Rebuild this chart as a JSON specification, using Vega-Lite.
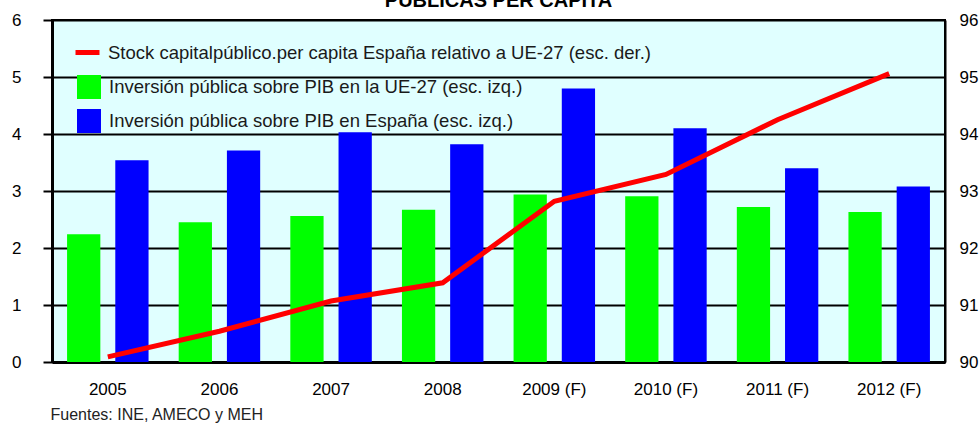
{
  "$schema": "https://vega.github.io/schema/vega-lite/v6.json",
  "autosize": {"type": "none"},
  "width": 893,
  "height": 342,
  "padding": {"left": 52, "top": 20, "right": 35, "bottom": 61},
  "background": "white",
  "title": {
    "text": "PUBLICAS PER CAPITA",
    "fontSize": 20,
    "fontWeight": "bold",
    "font": "Liberation Sans",
    "color": "black",
    "anchor": "middle",
    "offset": 0
  },
  "datasets": {
    "bars": [
      {"year": "2005", "serie": "Inversión pública sobre PIB en la UE-27 (esc. izq.)", "value": 2.24},
      {"year": "2005", "serie": "Inversión pública sobre PIB en España (esc. izq.)", "value": 3.54},
      {"year": "2006", "serie": "Inversión pública sobre PIB en la UE-27 (esc. izq.)", "value": 2.45},
      {"year": "2006", "serie": "Inversión pública sobre PIB en España (esc. izq.)", "value": 3.71},
      {"year": "2007", "serie": "Inversión pública sobre PIB en la UE-27 (esc. izq.)", "value": 2.56},
      {"year": "2007", "serie": "Inversión pública sobre PIB en España (esc. izq.)", "value": 4.03},
      {"year": "2008", "serie": "Inversión pública sobre PIB en la UE-27 (esc. izq.)", "value": 2.67},
      {"year": "2008", "serie": "Inversión pública sobre PIB en España (esc. izq.)", "value": 3.82},
      {"year": "2009 (F)", "serie": "Inversión pública sobre PIB en la UE-27 (esc. izq.)", "value": 2.94},
      {"year": "2009 (F)", "serie": "Inversión pública sobre PIB en España (esc. izq.)", "value": 4.80},
      {"year": "2010 (F)", "serie": "Inversión pública sobre PIB en la UE-27 (esc. izq.)", "value": 2.91},
      {"year": "2010 (F)", "serie": "Inversión pública sobre PIB en España (esc. izq.)", "value": 4.10},
      {"year": "2011 (F)", "serie": "Inversión pública sobre PIB en la UE-27 (esc. izq.)", "value": 2.72},
      {"year": "2011 (F)", "serie": "Inversión pública sobre PIB en España (esc. izq.)", "value": 3.40},
      {"year": "2012 (F)", "serie": "Inversión pública sobre PIB en la UE-27 (esc. izq.)", "value": 2.63},
      {"year": "2012 (F)", "serie": "Inversión pública sobre PIB en España (esc. izq.)", "value": 3.08}
    ],
    "stock": [
      {"year": "2005", "serie": "Stock capitalpúblico.per capita España  relativo a UE-27 (esc. der.)", "stock": 90.09},
      {"year": "2006", "serie": "Stock capitalpúblico.per capita España  relativo a UE-27 (esc. der.)", "stock": 90.54},
      {"year": "2007", "serie": "Stock capitalpúblico.per capita España  relativo a UE-27 (esc. der.)", "stock": 91.07},
      {"year": "2008", "serie": "Stock capitalpúblico.per capita España  relativo a UE-27 (esc. der.)", "stock": 91.39},
      {"year": "2009 (F)", "serie": "Stock capitalpúblico.per capita España  relativo a UE-27 (esc. der.)", "stock": 92.82},
      {"year": "2010 (F)", "serie": "Stock capitalpúblico.per capita España  relativo a UE-27 (esc. der.)", "stock": 93.29},
      {"year": "2011 (F)", "serie": "Stock capitalpúblico.per capita España  relativo a UE-27 (esc. der.)", "stock": 94.25},
      {"year": "2012 (F)", "serie": "Stock capitalpúblico.per capita España  relativo a UE-27 (esc. der.)", "stock": 95.06}
    ]
  },
  "encoding": {
    "x": {
      "field": "year",
      "type": "nominal",
      "sort": null,
      "scale": {"paddingInner": 0.27, "paddingOuter": 0.135},
      "axis": {
        "title": "Fuentes: INE, AMECO y MEH",
        "titleFontSize": 16,
        "titleFontWeight": "normal",
        "titleColor": "#222222",
        "titleAnchor": "start",
        "titleAlign": "left",
        "titleBaseline": "alphabetic",
        "titleX": -2,
        "titleY": 57,
        "labelAngle": 0,
        "labelFontSize": 17,
        "labelColor": "black",
        "labelPadding": 19,
        "labelDx": -6,
        "ticks": false,
        "tickSize": 0,
        "domainColor": "black",
        "domainWidth": 3,
        "grid": false
      }
    }
  },
  "layer": [
    {
      "data": {"name": "bars"},
      "mark": {"type": "bar"},
      "encoding": {
        "xOffset": {
          "field": "serie",
          "type": "nominal",
          "sort": ["Inversión pública sobre PIB en la UE-27 (esc. izq.)", "Inversión pública sobre PIB en España (esc. izq.)"],
          "scale": {"paddingInner": 0.31, "paddingOuter": 0}
        },
        "y": {
          "field": "value",
          "type": "quantitative",
          "scale": {"domain": [0, 6], "nice": false},
          "axis": {
            "orient": "left",
            "title": null,
            "values": [0, 1, 2, 3, 4, 5, 6],
            "grid": true,
            "gridColor": "black",
            "gridWidth": 2,
            "gridOpacity": 1,
            "domainColor": "black",
            "domainWidth": 3,
            "tickColor": "black",
            "tickSize": 9,
            "tickWidth": 2,
            "labelFontSize": 17,
            "labelColor": "black",
            "labelPadding": 22
          }
        },
        "fill": {
          "field": "serie",
          "type": "nominal",
          "scale": {
            "domain": ["Inversión pública sobre PIB en la UE-27 (esc. izq.)", "Inversión pública sobre PIB en España (esc. izq.)"],
            "range": ["#00FF00", "#0000FF"]
          },
          "legend": {
            "title": null,
            "orient": "none",
            "legendX": 25,
            "legendY": 55,
            "padding": 0,
            "symbolType": "square",
            "symbolSize": 576,
            "symbolStrokeWidth": 0,
            "symbolOpacity": 1,
            "rowPadding": 10,
            "labelFontSize": 18.5,
            "labelColor": "#1a1a1a",
            "labelOffset": 8,
            "labelLimit": 1000
          }
        }
      }
    },
    {
      "data": {"name": "stock"},
      "mark": {"type": "line", "strokeWidth": 5},
      "encoding": {
        "y": {
          "field": "stock",
          "type": "quantitative",
          "scale": {"domain": [90, 96], "nice": false, "zero": false},
          "axis": {
            "orient": "right",
            "title": null,
            "values": [90, 91, 92, 93, 94, 95, 96],
            "grid": false,
            "domainColor": "black",
            "domainWidth": 2,
            "ticks": false,
            "tickSize": 0,
            "labelFontSize": 17,
            "labelColor": "black",
            "labelPadding": 14
          }
        },
        "stroke": {
          "field": "serie",
          "type": "nominal",
          "scale": {"range": ["#FF0000"]},
          "legend": {
            "title": null,
            "orient": "none",
            "legendX": 21,
            "legendY": 18,
            "padding": 0,
            "symbolType": "stroke",
            "symbolSize": 576,
            "symbolStrokeWidth": 5,
            "labelFontSize": 18.5,
            "labelColor": "#1a1a1a",
            "labelOffset": 6,
            "labelLimit": 1000
          }
        }
      }
    }
  ],
  "resolve": {"scale": {"y": "independent"}},
  "config": {
    "font": "Liberation Sans",
    "view": {"fill": "#E0FFFF", "stroke": "black", "strokeWidth": 2}
  }
}
